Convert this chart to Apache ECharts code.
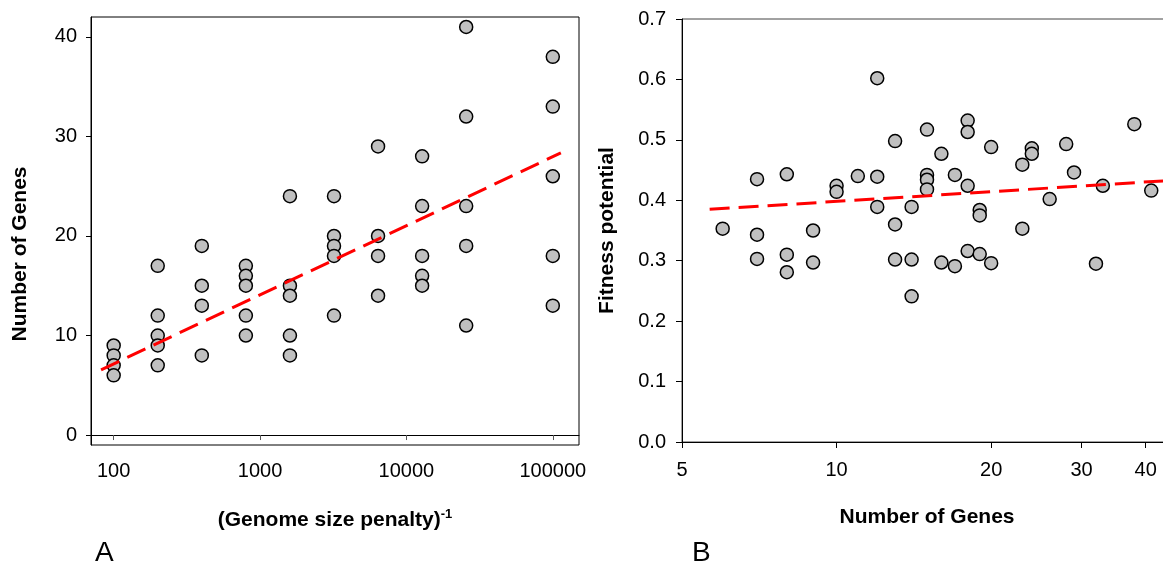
<!DOCTYPE html>
<html>
<head>
<meta charset="utf-8">
<script src="https://cdn.jsdelivr.net/npm/echarts@6/dist/echarts.min.js"></script>
<style>
html, body { margin: 0; padding: 0; background: #fff; }
#main { width: 1163px; height: 566px; }
</style>
</head>
<body>
<div id="main"></div>
<script>
// panel A: genome size penalty (inverse) vs number of genes
var penaltyInv = [100, 200, 400, 800, 1600, 3200, 6400, 12800, 25600, 100000];
var genesA = [
	[9, 8, 7, 6],
	[17, 12, 10, 9, 7],
	[19, 15, 13, 8],
	[17, 16, 15, 12, 10],
	[24, 15, 14, 10, 8],
	[24, 20, 19, 18, 12],
	[29, 20, 18, 14],
	[28, 23, 18, 16, 15],
	[41, 32, 23, 19, 11],
	[38, 33, 26, 18, 13]
];
var fitA = [[82, 6.55], [113500, 28.35]];
var ticksAx = [100, 1000, 10000, 100000];
var ticksAy = [0, 10, 20, 30, 40];

// panel B: number of genes vs fitness potential
var genesB = [6, 7, 7, 7, 8, 8, 8, 9, 9, 10, 10, 11, 12, 12, 12, 13, 13, 13, 14, 14, 14,
	15, 15, 15, 15, 16, 16, 17, 17, 18, 18, 18, 18, 19, 19, 19, 20, 20, 23, 23, 24, 24,
	26, 28, 29, 32, 33, 38, 41];
var fitnessB = [0.353, 0.435, 0.343, 0.303, 0.443, 0.310, 0.281, 0.350, 0.297, 0.424, 0.414,
	0.440, 0.602, 0.439, 0.389, 0.498, 0.360, 0.302, 0.389, 0.302, 0.241,
	0.517, 0.442, 0.434, 0.418, 0.477, 0.297, 0.442, 0.291, 0.532, 0.513, 0.424, 0.316,
	0.384, 0.375, 0.311, 0.488, 0.296, 0.459, 0.353, 0.486, 0.477,
	0.402, 0.493, 0.446, 0.295, 0.424, 0.526, 0.416];
var fitB = [[5.66, 0.385], [45, 0.433]];
var ticksBx = [5, 10, 20, 30, 40];

var pointsA = [];
penaltyInv.forEach(function (x, i) {
	genesA[i].forEach(function (g) { pointsA.push([x, g]); });
});
var pointsB = genesB.map(function (g, i) { return [g, fitnessB[i]]; });

var font = 'Liberation Sans, Arial, sans-serif';
var labelStyle = { color: '#000', fontSize: 20, fontFamily: font };
var nameStyle = { color: '#000', fontSize: 21, fontWeight: 'bold', fontFamily: font };
var dotStyle = { color: '#c0c0c0', borderColor: '#000', borderWidth: 1.5, opacity: 1 };
var dashStyle = { color: '#ff0000', width: 3, type: [20, 9] };
var plainNum = function (v) { return String(Math.round(v)); };

var myChart = echarts.init(document.getElementById('main'), null, { renderer: 'canvas' });
var option = {
	animation: false,
	backgroundColor: '#fff',
	grid: [
		{ left: 91, top: 17, width: 488, height: 428, outerBoundsMode: 'none', show: true, borderColor: '#000', borderWidth: 1, backgroundColor: 'transparent' },
		{ left: 682, top: 19, width: 490, height: 423, outerBoundsMode: 'none', show: true, borderColor: '#444', borderWidth: 1, backgroundColor: 'transparent' }
	],
	xAxis: [
		{
			gridIndex: 0, type: 'log', logBase: 10, min: 70, max: 151000,
			name: '{a|(Genome size penalty)}{s|-1}',
			nameLocation: 'middle', nameGap: 63,
			nameTextStyle: {
				rich: {
					a: nameStyle,
					s: { color: '#000', fontSize: 13, fontWeight: 'bold', fontFamily: font, padding: [0, 0, 12, 0] }
				}
			},
			axisLine: { show: true, lineStyle: { color: '#000', width: 1 } },
			axisTick: { show: true, inside: false, length: 5, customValues: ticksAx, lineStyle: { color: '#555' } },
			axisLabel: Object.assign({ margin: 16, customValues: ticksAx, formatter: plainNum }, labelStyle),
			splitLine: { show: false }, minorTick: { show: false }, minorSplitLine: { show: false }
		},
		{
			gridIndex: 1, type: 'log', logBase: 10, min: 5, max: 45,
			name: 'Number of Genes',
			nameLocation: 'middle', nameGap: 65,
			nameTextStyle: nameStyle,
			axisLine: { show: true, lineStyle: { color: '#000', width: 1 } },
			axisTick: { show: true, inside: false, length: 6, customValues: ticksBx, lineStyle: { color: '#000' } },
			axisLabel: Object.assign({ margin: 18, customValues: ticksBx, formatter: plainNum }, labelStyle),
			splitLine: { show: false }, minorTick: { show: false }, minorSplitLine: { show: false }
		}
	],
	yAxis: [
		{
			gridIndex: 0, type: 'value', min: -1, max: 42,
			name: 'Number of Genes',
			nameLocation: 'middle', nameGap: 60,
			nameTextStyle: Object.assign({ padding: [0, 46, 0, 0] }, nameStyle),
			axisLine: { show: true, lineStyle: { color: '#000', width: 1 } },
			axisTick: { show: true, inside: false, length: 5, customValues: ticksAy, lineStyle: { color: '#000' } },
			axisLabel: Object.assign({ margin: 14, customValues: ticksAy }, labelStyle),
			splitLine: { show: false }
		},
		{
			gridIndex: 1, type: 'value', min: 0, max: 0.7, interval: 0.1,
			name: 'Fitness potential',
			nameLocation: 'middle', nameGap: 64,
			nameTextStyle: nameStyle,
			axisLine: { show: true, lineStyle: { color: '#000', width: 1 } },
			axisTick: { show: true, inside: false, length: 6, lineStyle: { color: '#000' } },
			axisLabel: Object.assign({
				margin: 16,
				formatter: function (v) { return v.toFixed(1); }
			}, labelStyle),
			splitLine: { show: false }
		}
	],
	series: [
		{
			type: 'scatter', xAxisIndex: 0, yAxisIndex: 0,
			symbol: 'circle', symbolSize: 13, itemStyle: dotStyle, z: 2,
			data: pointsA
		},
		{
			type: 'line', xAxisIndex: 0, yAxisIndex: 0,
			showSymbol: false, symbol: 'none', lineStyle: dashStyle, z: 3,
			data: fitA
		},
		{
			type: 'scatter', xAxisIndex: 1, yAxisIndex: 1,
			symbol: 'circle', symbolSize: 13, itemStyle: dotStyle, z: 2,
			data: pointsB
		},
		{
			type: 'line', xAxisIndex: 1, yAxisIndex: 1,
			showSymbol: false, symbol: 'none', lineStyle: dashStyle, z: 3,
			data: fitB
		}
	],
	graphic: [
		{ type: 'text', left: 95, top: 539, style: { text: 'A', fontSize: 28, fontFamily: font, fill: '#000' } },
		{ type: 'text', left: 692, top: 539, style: { text: 'B', fontSize: 28, fontFamily: font, fill: '#000' } }
	]
};
myChart.clear();
myChart.setOption(option);
</script>
</body>
</html>
